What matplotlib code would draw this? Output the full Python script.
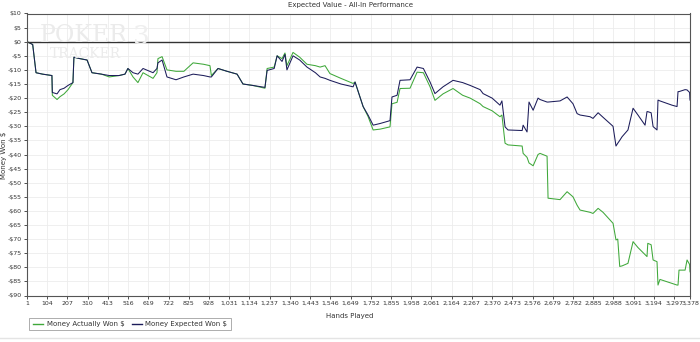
import matplotlib
matplotlib.use("Agg")
import matplotlib.pyplot as plt
from matplotlib.lines import Line2D

# hands played (x) and running totals ($)
hands = [1, 16, 30, 47, 80, 128, 130, 154, 169, 190, 210, 235, 240, 270, 307, 332,
         380, 420, 470, 500, 515, 541, 566, 592, 643, 663, 668, 689, 714, 760, 800,
         847, 900, 933, 940, 974, 1020, 1071, 1101, 1150, 1213, 1224, 1260, 1275,
         1300, 1315, 1325, 1356, 1390, 1427, 1470, 1494, 1519, 1544, 1600, 1662,
         1672, 1713, 1738, 1764, 1800, 1850, 1860, 1886, 1901, 1952, 1988, 2020,
         2054, 2079, 2120, 2171, 2220, 2258, 2309, 2324, 2370, 2410, 2420, 2436,
         2451, 2523, 2528, 2548, 2558, 2579, 2604, 2614, 2650, 2655, 2716, 2752,
         2782, 2803, 2818, 2869, 2884, 2910, 2935, 2986, 3001, 3010, 3020, 3032,
         3062, 3088, 3113, 3149, 3159, 3163, 3180, 3190, 3210, 3215, 3225, 3286,
         3312, 3317, 3322, 3353, 3363, 3376, 3378]

expected = [0, -0.5, -1, -11, -11.5, -12, -18, -18.5, -17, -16.5, -15.5, -14.5, -5.5,
            -6, -6.5, -11, -11.5, -12, -12, -11.5, -9.5, -11, -11.5, -9.5, -11, -9.5,
            -7.5, -6.5, -12.5, -13.5, -12.5, -11.5, -12, -12.5, -12.5, -9.5, -10.5,
            -11.5, -15, -15.5, -16.2, -10.2, -9.5, -5, -7, -4.5, -10, -5, -6.5, -9,
            -11, -12.5, -13, -13.7, -15, -16, -14.3, -23, -26, -29.6, -29, -28,
            -19.6, -19, -13.7, -13.5, -9, -9.5, -14.3, -18.4, -16, -13.7, -14.5,
            -15.5, -17, -18.4, -20, -22.5, -21, -30.2, -31.3, -31.5, -29.6, -32,
            -21.4, -24.3, -20, -20.5, -21.4, -21.4, -21, -19.6, -22, -25.5, -26,
            -26.6, -27.2, -25.2, -26.8, -30, -37, -36, -35, -33.7, -31.3, -23.6,
            -26, -29.6, -24.8, -24.8, -25.2, -30.1, -31.3, -20.7, -21, -22.5, -23,
            -17.7, -17.7, -17, -17.1, -18, -20.7]

actual = [0, -0.5, -1, -11, -11.5, -12, -19, -20.5, -19.5, -18.5, -17, -14.5, -5.5,
          -6, -6.5, -11, -11.5, -12.5, -12, -11.5, -9.5, -12.5, -14.5, -11, -13, -11,
          -6, -5.3, -10, -10.5, -10.5, -7.5, -8, -8.5, -12, -9.5, -10.5, -11.5, -15,
          -15.5, -16.5, -9.5, -9, -5, -6, -4, -8.5, -3.8, -5.5, -8, -8.5, -9, -8.5,
          -11.3, -13, -14.8, -14.3, -23, -26.5, -31.3, -31, -30.2, -22, -21.5,
          -16.6, -16.5, -10.8, -11, -16, -20.8, -18.5, -16.6, -19, -20, -22, -23,
          -24.5, -26.6, -26, -36, -36.6, -37, -39.6, -41, -43, -44, -40, -39.6,
          -40.6, -55.5, -56, -53.2, -55, -58, -59.7, -60.5, -60.9, -59.1, -60.5,
          -64.4, -70.3, -70, -79.7, -79.5, -78.6, -70.9, -73, -75.5, -76.2, -71.5,
          -72, -77.4, -78, -86.3, -84.3, -85.7, -86.3, -86.3, -81, -81, -77.4, -79,
          -81.6]

x_ticks = [1, 104, 207, 310, 413, 516, 619, 722, 825, 928, 1031, 1134, 1237, 1340,
           1443, 1546, 1649, 1752, 1855, 1958, 2061, 2164, 2267, 2370, 2473, 2576,
           2679, 2782, 2885, 2988, 3091, 3194, 3297, 3378]
y_ticks = list(range(10, -95, -5))

green = "#3fa83a"
navy = "#1c1c5a"

fig = plt.figure(figsize=(7, 3.42), dpi=100)
ax = fig.add_axes([27 / 700, 1 - 295.5 / 342, 663 / 700, 282 / 342])

ax.plot(hands, actual, color=green, lw=0.75)
ax.plot(hands, expected, color=navy, lw=0.75)
ax.axhline(0, color="#333333", lw=1)

ax.set_xlim(1, 3378)
ax.set_ylim(-90, 10)
ax.set_xticks(x_ticks)
ax.set_xticklabels([f"{t:,}" for t in x_ticks])
ax.set_yticks(y_ticks)
ax.set_yticklabels([f"${t}" if t >= 0 else f"-${-t}" for t in y_ticks])
ax.tick_params(labelsize=4.5, colors="#333333", length=2.5, width=0.6, pad=1.5)
ax.grid(True, color="#ececec", lw=0.6)
ax.set_axisbelow(True)
for s in ax.spines.values():
    s.set_color("#555555")
    s.set_linewidth(0.8)

# watermark
fig.text(40 / 700, 1 - 36 / 342, "POKER", fontsize=17, family="DejaVu Serif",
         color="#ebebeb", va="center", zorder=0)
fig.text(133 / 700, 1 - 36 / 342, "3", fontsize=19, family="DejaVu Serif",
         color="#efefef", va="center", zorder=0)
fig.text(50 / 700, 1 - 54 / 342, "TRACKER", fontsize=10, family="DejaVu Serif",
         color="#ebebeb", va="center", zorder=0)

fig.text(350 / 700, 1 - 5 / 342, "Expected Value - All-In Performance",
         fontsize=5, color="#333333", ha="center", va="center")
fig.text(350 / 700, 1 - 316 / 342, "Hands Played", fontsize=5, color="#333333",
         ha="center", va="center")
fig.text(4 / 700, 1 - 155 / 342, "Money Won $", fontsize=5, color="#333333",
         rotation=90, ha="center", va="center")

handles = [Line2D([], [], color=green, lw=1), Line2D([], [], color=navy, lw=1)]
leg = fig.legend(handles, ["Money Actually Won $", "Money Expected Won $"],
                 ncol=2, fontsize=5, loc="center left",
                 bbox_to_anchor=(26 / 700, 1 - 324 / 342), fancybox=False,
                 handlelength=1.5, handletextpad=0.5, columnspacing=1.0,
                 borderpad=0.5, labelcolor="#333333")
leg.get_frame().set_edgecolor("#888888")
leg.get_frame().set_linewidth(0.6)

fig.add_artist(Line2D([0, 1], [1 - 338 / 342] * 2, color="#e4e4e4", lw=1))

fig.savefig("out.png", dpi=100)
